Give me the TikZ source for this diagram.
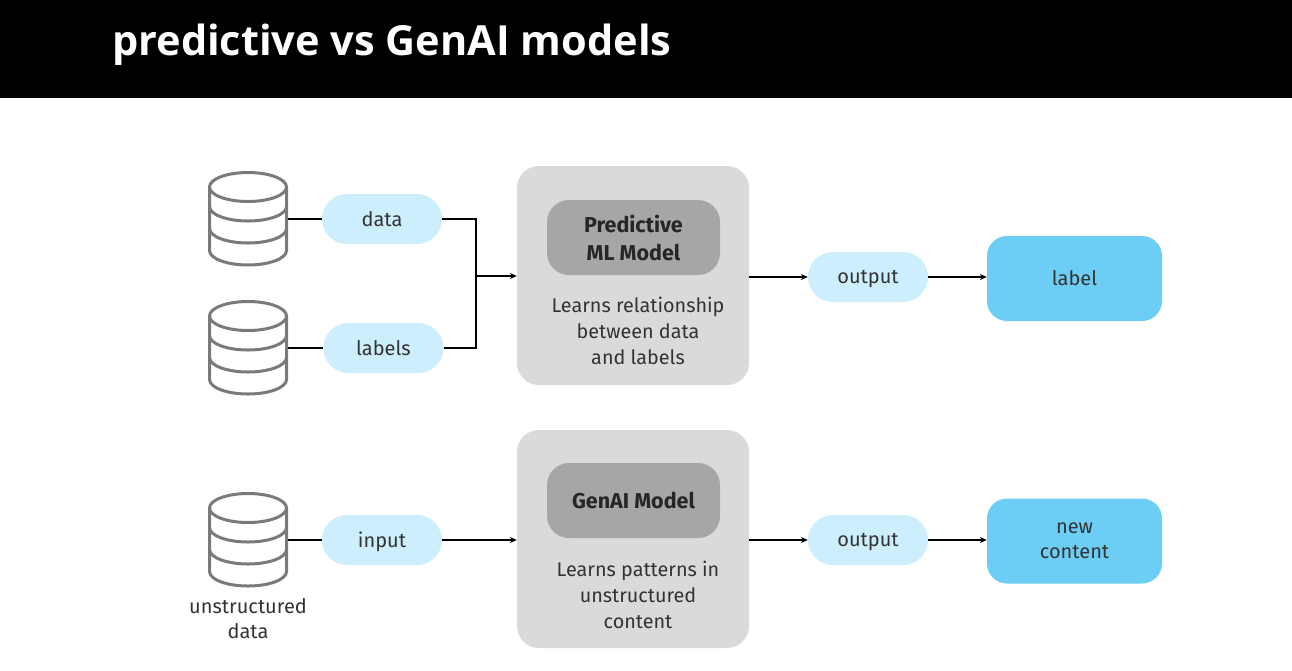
\documentclass[tikz,border=0pt]{standalone}
\usepackage{fontspec}
\setmainfont{Fira Sans}
\newfontfamily\titlefont{Open Sans}
\usetikzlibrary{positioning,arrows.meta,calc}
\definecolor{pillblue}{HTML}{CDEEFC}
\definecolor{labelblue}{HTML}{6CCDF5}
\definecolor{boxgray}{HTML}{DADADA}
\definecolor{modelgray}{HTML}{A6A6A6}
\definecolor{dbgray}{HTML}{7A7A7A}
\definecolor{inkgray}{HTML}{333333}
\begin{document}
\begin{tikzpicture}[x=1pt,y=-1pt,
  txt/.style={text=inkgray,font=\fontsize{20}{25}\selectfont,align=center,inner sep=0pt},
  pill/.style={txt,shape=rectangle,fill=pillblue,rounded corners=25pt,minimum width=120pt,minimum height=50pt},
  result/.style={txt,fill=labelblue,rounded corners=20pt,minimum width=175pt,minimum height=85pt},
  modelbox/.style={fill=boxgray,rounded corners=22pt,minimum width=232pt,minimum height=219pt,inner sep=0pt},
  modelname/.style={txt,fill=modelgray,text=black!85,font=\bfseries\fontsize{21.5}{28}\selectfont,rounded corners=22pt,minimum width=173pt,minimum height=75pt},
  desc/.style={txt,font=\fontsize{19.8}{26}\selectfont},
  db/.style={minimum width=80pt,minimum height=95pt,inner sep=0pt},
  dbline/.style={draw=dbgray,line width=3pt},
  link/.style={line width=1.6pt,black},
  flow/.style={link,-{Stealth[length=7pt,width=6pt]}}]
\def\rx{38.5pt}
\def\ry{14.5pt}
\def\dbicon#1{%
  \draw[dbline] ($(#1.center)+(0,-32)$) ellipse [x radius=\rx, y radius=\ry];
  \draw[dbline] ($(#1.center)+(-38.5,-32)$) -- ($(#1.center)+(-38.5,31.5)$)
    arc[start angle=180,end angle=360,x radius=\rx,y radius=\ry] -- ($(#1.center)+(38.5,-32)$);
  \draw[dbline] ($(#1.center)+(-38.5,-12.5)$) arc[start angle=180,end angle=360,x radius=\rx,y radius=\ry];
  \draw[dbline] ($(#1.center)+(-38.5,9.5)$) arc[start angle=180,end angle=360,x radius=\rx,y radius=\ry];
}

\useasboundingbox (0,0) rectangle (1292,670);
\fill[white] (0,0) rectangle (1292,670);

% header
\fill[black] (0,0) rectangle (1292,98);
\node[anchor=west,text=white,inner sep=0pt,font=\titlefont\bfseries\fontsize{41.5}{48}\selectfont] (title) at (112,45) {predictive vs GenAI models};

% predictive model
\node[db] (dbdata) at (248,219) {};
\dbicon{dbdata}
\node[pill] (data) at (382,219) {data};
\node[db] (dblabels) at (248,348) {};
\dbicon{dblabels}
\node[pill] (labels) at (383.5,348) {labels};
\coordinate (join) at (476,276);

\node[modelbox] (pred) at (633,275.5) {};
\node[modelname] (predname) at (633.5,237.5) {Predictive\\ML Model};
\node[desc] (preddesc) at (638,331) {Learns relationship\\between data\\and labels};
\node[pill,text depth=0pt] (out1) at (868,277) {output};
\node[result] (lab) at (1074.5,278.5) {label};

\draw[link] (dbdata.east) -- (data.west);
\draw[link] (dblabels.east) -- (labels.west);
\draw[link] (data.east) -| (join);
\draw[link] (labels.east) -| (join);
\draw[flow] (join) -- (join -| pred.west);
\draw[flow] (pred.east |- out1) -- (out1.west);
\draw[flow] (out1.east) -- (out1.east -| lab.west);

% GenAI model
\node[db] (dbraw) at (248,540) {};
\dbicon{dbraw}
\node[txt] (rawtxt) at (248,619) {unstructured\\data};
\node[pill,text depth=0pt] (input) at (382,540) {input};

\node[modelbox,minimum height=218pt] (gen) at (633,539) {};
\node[modelname] (genname) at (633.5,500.5) {GenAI Model};
\node[desc] (gendesc) at (638,595) {Learns patterns in\\unstructured\\content};
\node[pill,text depth=0pt] (out2) at (868,540) {output};
\node[result] (new) at (1074.5,541) {new\\content};

\draw[link] (dbraw.east) -- (input.west);
\draw[flow] (input.east) -- (input.east -| gen.west);
\draw[flow] (gen.east |- out2) -- (out2.west);
\draw[flow] (out2.east) -- (out2.east -| new.west);
\end{tikzpicture}
\end{document}
